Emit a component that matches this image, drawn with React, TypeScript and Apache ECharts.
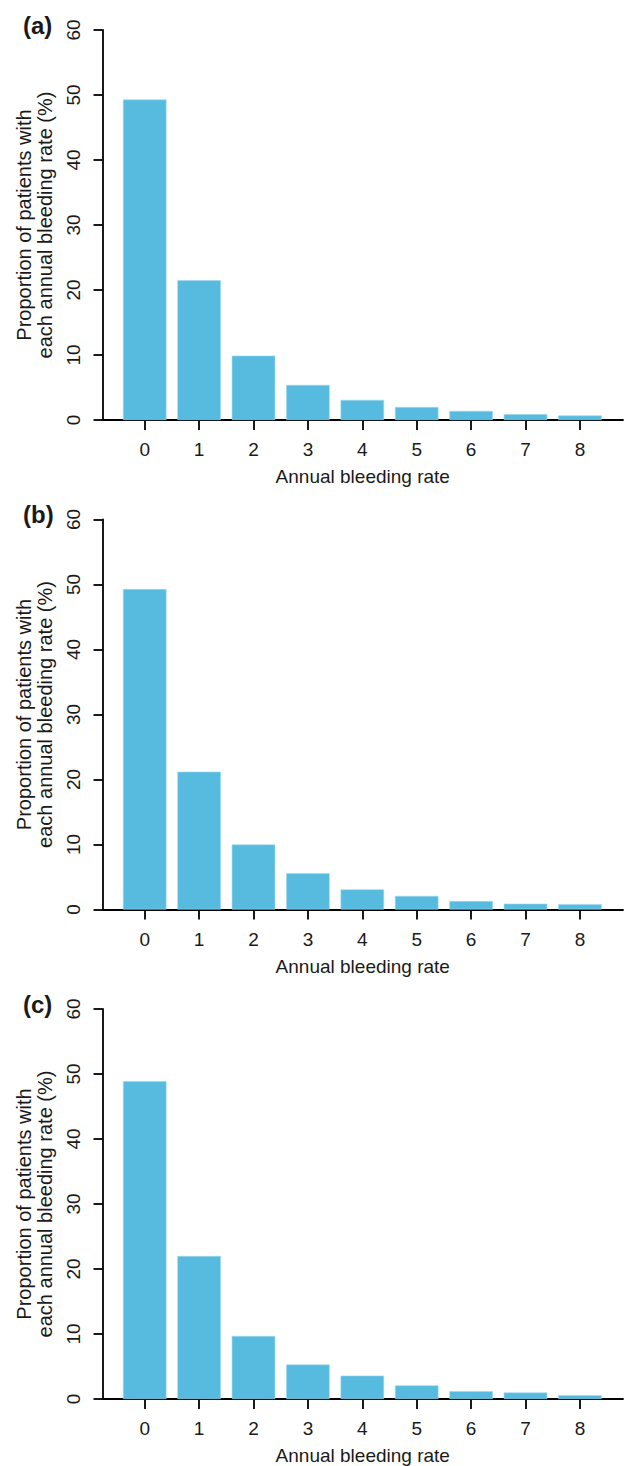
import React, { useEffect, useRef } from "react";
import * as echarts from "echarts";

const categories = [0, 1, 2, 3, 4, 5, 6, 7, 8];
const panelLabels = ["(a)", "(b)", "(c)"];
const valuesA = [49.3, 21.5, 9.9, 5.4, 3.1, 2.0, 1.4, 0.9, 0.7];
const valuesB = [49.3, 21.2, 10.0, 5.6, 3.1, 2.1, 1.3, 0.9, 0.8];
const valuesC = [48.9, 22.0, 9.7, 5.3, 3.6, 2.1, 1.2, 1.0, 0.6];
const panelValues = [valuesA, valuesB, valuesC];
const xTitle = "Annual bleeding rate";
const yTitle = "Proportion of patients with\neach annual bleeding rate (%)";

const FONT = "'Liberation Sans', Arial, Helvetica, sans-serif";
const TEXT = "#1a1a1a";
const BAR = "#56bbde";

export default function App() {
  const ref = useRef<HTMLDivElement>(null);
  useEffect(() => {
    if (!ref.current) return;
    const chart = echarts.init(ref.current, null, { renderer: "svg" });
    const step = 489.5;
    const grids: any[] = [];
    const xAxes: any[] = [];
    const yAxes: any[] = [];
    const series: any[] = [];
    const titles: any[] = [];
    panelValues.forEach((vals, i) => {
      const o = i * step;
      grids.push({ left: 102.5, top: 30 + o, width: 520.5, height: 390 });
      titles.push({
        text: panelLabels[i],
        left: 18,
        top: 8 + o,
        textStyle: { fontSize: 24, fontWeight: "bold", color: TEXT, fontFamily: FONT },
      });
      xAxes.push({
        type: "value",
        gridIndex: i,
        min: -0.776,
        max: 8.792,
        name: xTitle,
        nameLocation: "middle",
        nameGap: 47,
        nameTextStyle: { fontSize: 19, color: TEXT, fontFamily: FONT },
        axisLine: { show: true, onZero: false, lineStyle: { color: "#000", width: 1.8 } },
        axisTick: { show: true, length: 10, customValues: categories, lineStyle: { color: "#000", width: 1.8 } },
        axisLabel: { customValues: categories, fontSize: 19, color: TEXT, fontFamily: FONT, margin: 20 },
        splitLine: { show: false },
      });
      yAxes.push({
        type: "value",
        gridIndex: i,
        min: 0,
        max: 60,
        interval: 10,
        name: yTitle,
        nameLocation: "middle",
        nameRotate: 90,
        nameGap: 44,
        nameTextStyle: { fontSize: 20, color: TEXT, fontFamily: FONT, lineHeight: 21 },
        axisLine: { show: true, onZero: false, lineStyle: { color: "#000", width: 1.8 } },
        axisTick: { show: true, length: 9, lineStyle: { color: "#000", width: 1.8 } },
        axisLabel: { rotate: 90, fontSize: 19, color: TEXT, fontFamily: FONT, margin: 20 },
        splitLine: { show: false },
      });
      series.push({
        type: "bar",
        xAxisIndex: i,
        yAxisIndex: i,
        barWidth: 43.5,
        itemStyle: { color: BAR, borderColor: "#9fd9ee", borderWidth: 0.6 },
        data: categories.map((c, k) => [c, vals[k]]),
      });
    });
    chart.setOption({
      animation: false,
      backgroundColor: "#ffffff",
      textStyle: { fontFamily: FONT },
      title: titles,
      grid: grids,
      xAxis: xAxes,
      yAxis: yAxes,
      series,
    });
    return () => chart.dispose();
  }, []);
  return (
    <div
      ref={ref}
      style={{ position: "absolute", left: 0, top: 0, width: 628, height: 1466, background: "#fff" }}
    />
  );
}
